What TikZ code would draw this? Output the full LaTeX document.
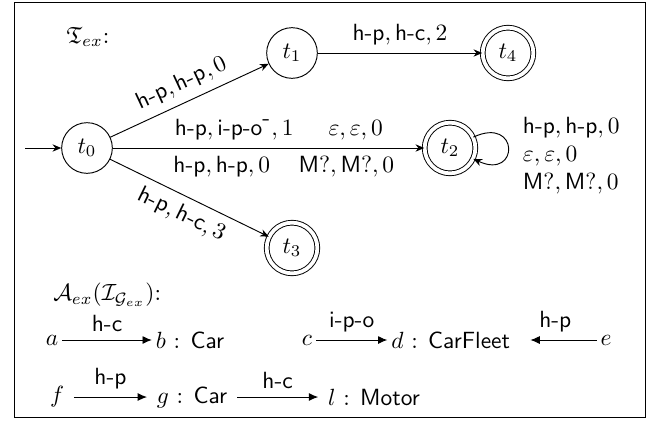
\documentclass[tikz,border=0pt]{standalone}
\usepackage{amsmath,amssymb}
\usepackage{tikz}
\usetikzlibrary{automata,arrows.meta}

\newcommand{\ehp}{\textsf{h-p}}
\newcommand{\ehc}{\textsf{h-c}}
\newcommand{\eipo}{\textsf{i-p-o}}
\newcommand{\emq}{\textsf{M}?}

\begin{document}
\begin{tikzpicture}[
        >={Stealth[length=1.3mm, width=1.1mm]},
        every state/.style = {draw, minimum size=7.6mm, inner sep=0pt},
        accepting/.style   = {double, double distance=1.6pt},
        initial text       = {},
        initial distance   = 5.4mm,
        obj/.style         = {inner sep=1.5pt},
        rel/.style         = {-{Latex[length=1.4mm, width=1.2mm]}},
    ]
        \useasboundingbox (0,0) rectangle (9.825,-6.435);
        \draw (0.21,-0.03) rectangle (9.675,-6.255);

        % transducer
        \node at (1.32,-0.555) {$\mathfrak{T}_{ex}$:};
        \node[state, initial]   (t0) at (1.305,-2.22) {$t_0$};
        \node[state]            (t1) at (4.38,-0.795) {$t_1$};
        \node[state, accepting] (t4) at (7.62,-0.795) {$t_4$};
        \node[state, accepting] (t2) at (6.75,-2.22)  {$t_2$};
        \node[state, accepting] (t3) at (4.38,-3.72)  {$t_3$};

        \path[->]
            (t0) edge node[sloped, above] {$\ehp, \ehp, 0$} (t1)
            (t1) edge node[above] {$\ehp, \ehc, 2$} (t4)
            (t0) edge node[pos=0.39, above] {$\ehp, \eipo^{\mbox{\textsf{-}}}, 1$}
                      node[pos=0.78, above] {$\varepsilon, \varepsilon, 0$}
                      node[pos=0.35, below] {$\ehp, \ehp, 0$}
                      node[pos=0.75, below] {$\emq, \emq, 0$} (t2)
            (t0) edge node[sloped, below] {$\ehp, \ehc, 3$} (t3)
            (t2) edge[out=25, in=-25, looseness=6] (t2);
        \node[anchor=west, align=left] (loopl) at (7.72,-2.34)
            {$\ehp, \ehp, 0$\\$\varepsilon, \varepsilon, 0$\\$\emq, \emq, 0$};

        % instance graph
        \node[anchor=west] (inst) at (0.675,-4.425) {$\mathcal{A}_{ex}(\mathcal{I}_{\mathcal{G}_{ex}})$:};
        \node[obj] (a) at (0.78,-5.1)  {$a$};
        \node[obj] (b) at (2.85,-5.1)  {$b$ : \textsf{Car}};
        \node[obj] (c) at (4.605,-5.1) {$c$};
        \node[obj] (d) at (6.76,-5.1)  {$d$ : \textsf{CarFleet}};
        \node[obj] (e) at (9.09,-5.1)  {$e$};
        \node[obj] (f) at (0.855,-5.955) {$f$};
        \node[obj] (g) at (2.88,-5.955)  {$g$ : \textsf{Car}};
        \node[obj] (l) at (5.61,-5.955)  {$l$ : \textsf{Motor}};

        \draw[rel] (a) -- node[above] {\ehc}  (b);
        \draw[rel] (c) -- node[above] {\eipo} (d);
        \draw[rel, shorten >=7pt] (e) -- node[above] {\ehp}  (d);
        \draw[rel, shorten <=2.5pt, shorten >=2.5pt] (f) -- node[above] {\ehp} (g);
        \draw[rel, shorten <=2.5pt, shorten >=2.5pt] (g) -- node[above] {\ehc} (l);
    \end{tikzpicture}
\end{document}
